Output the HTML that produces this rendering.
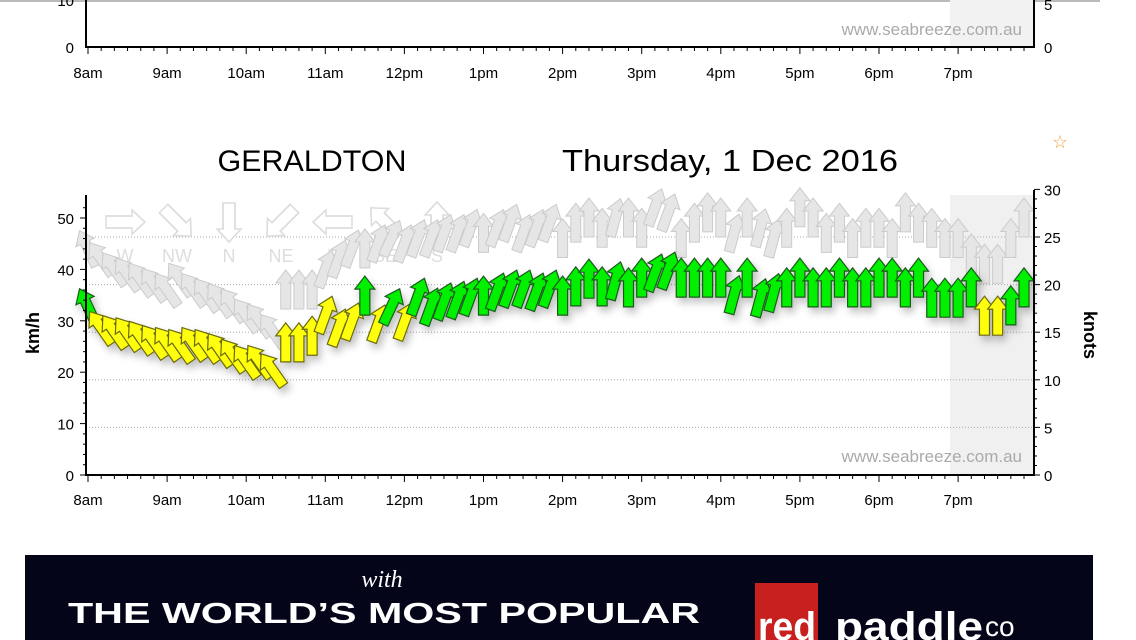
<!DOCTYPE html>
<html><head><meta charset="utf-8"><style>
body{margin:0;width:1136px;height:640px;overflow:hidden;background:#fff;font-family:"Liberation Sans",sans-serif;position:relative}
svg{position:absolute;left:0;top:0}
</style></head><body>
<svg id="c" width="1136" height="640"><defs><filter id="sh" x="-50%" y="-50%" width="200%" height="200%"><feDropShadow dx="3" dy="5" stdDeviation="4" flood-color="#000" flood-opacity="0.25"/></filter></defs></svg>
<script>
const speedKmh=[32.7,28.6,27.8,27.4,26.7,25.9,25.5,25.1,25.5,25.1,24.3,23.2,22.0,22.0,20.4,25.7,25.7,27.0,31.1,28.6,29.8,34.8,29.4,32.7,29.8,34.6,32.7,33.7,34.0,34.6,34.8,35.6,36.2,36.2,35.6,36.2,34.8,36.6,38.1,36.6,37.7,36.4,38.3,39.3,39.7,38.3,38.3,38.3,38.3,35.0,38.3,34.4,35.4,36.4,38.3,36.4,36.4,38.3,36.4,36.4,38.3,38.3,36.4,38.3,34.4,34.4,34.4,36.4,30.9,30.9,32.9,36.4];
const gustKmh=[44,42,40,39,38,37,36,38,36,35,34,33,31,30,28,36,36,36,40,42,44,44,45,46,45,46,46,47,47,48,47,48,49,47,48,49,46,49,50,48,50,50,48,52,51,46,49,51,50,47,50,48,46,48,52,50,47,49,46,48,48,46,51,49,48,46,46,43,41,41,46,50];
const dirDeg=[-25,-35,-35,-35,-35,-35,-35,-35,-35,-35,-35,-35,-35,-35,-35,0,0,0,20,20,20,0,20,25,20,20,20,20,20,20,0,20,20,20,20,20,0,0,0,0,15,0,0,20,20,0,0,0,0,15,0,15,15,0,0,0,0,0,0,0,0,0,0,0,0,0,0,0,0,0,0,0];
const hourLabels=["8am","9am","10am","11am","12pm","1pm","2pm","3pm","4pm","5pm","6pm","7pm"];
const kmhTicks=[0,10,20,30,40,50];
const knotTicks=[0,5,10,15,20,25,30];
const compassLabels=["W","NW","N","NE","E","SE","S"];
const compassRot=[90,135,180,225,270,315,0];

(function(){
const NS="http://www.w3.org/2000/svg";
const svg=document.getElementById('c');
function el(t,a,p){const e=document.createElementNS(NS,t);for(const k in a)e.setAttribute(k,a[k]);(p||svg).appendChild(e);return e;}
function tx(x,y,s,a,p){const e=el('text',Object.assign({x:x,y:y},a),p);e.textContent=s;return e;}
const X0=88,PXH=79.1,L=86,R=1034;
const xT=m=>X0+m/60*PXH;
const yK=v=>475-v*5.14;
const yN=k=>475-k*9.52;
const AR="M0,-20 L10,-7 L5,-7 L5,19 L-5,19 L-5,-7 L-10,-7 Z";

el('rect',{x:0,y:0,width:1100,height:2,fill:'#bbb'});
const topChart=el('g',{});


el('rect',{x:950,y:0,width:84,height:47,fill:'#f2f2f2'},topChart);
el('line',{x1:L,y1:0,x2:L,y2:48,stroke:'#000','stroke-width':2},topChart);
el('line',{x1:R,y1:0,x2:R,y2:48,stroke:'#000','stroke-width':2},topChart);
el('line',{x1:L,y1:47,x2:R,y2:47,stroke:'#000','stroke-width':2},topChart);
tx(74,53,'0',{'font-size':15,'text-anchor':'end'},topChart);tx(74,6,'10',{'font-size':15,'text-anchor':'end'},topChart);
tx(1044,53,'0',{'font-size':15},topChart);tx(1044,10,'5',{'font-size':15},topChart);
tx(1022,35,'www.seabreeze.com.au',{'font-size':17,fill:'#aaa','text-anchor':'end'},topChart);
for(let m=0;m<=710;m+=10){el('line',{x1:xT(m),y1:47,x2:xT(m),y2:m%60?51:54,stroke:'#000'},topChart);}
hourLabels.forEach((h,i)=>{tx(xT(i*60),78,h,{'font-size':15,'text-anchor':'middle'},topChart);});

const st=tx(1060,148,'☆',{'font-size':18,fill:'#f0a040','text-anchor':'middle'});


const t1=tx(312,171,'GERALDTON',{'font-size':30,'text-anchor':'middle',textLength:189,lengthAdjust:'spacingAndGlyphs'});


const t2=tx(730,171,'Thursday, 1 Dec 2016',{'font-size':31,'text-anchor':'middle',textLength:336,lengthAdjust:'spacingAndGlyphs'});



const g=el('g',{});


el('rect',{x:950,y:195,width:84,height:280,fill:'#f0f0f0'},g);
knotTicks.slice(1,6).forEach(k=>{el('line',{x1:L,y1:yN(k),x2:R,y2:yN(k),stroke:'#aaa','stroke-dasharray':'1,2'},g);});
const wm=tx(1022,462,'www.seabreeze.com.au',{'font-size':17,fill:'#aaa','text-anchor':'end'},g);


compassLabels.forEach((c,i)=>{const cx=125+i*52,cy=222;
 el('path',{d:AR,transform:`translate(${cx},${cy}) rotate(${compassRot[i]}) scale(1.2,1.0)`,fill:'#fff',stroke:'#ddd','stroke-width':1.5},g);
 const lt=tx(cx,262,c,{'font-size':18,fill:'#ddd','text-anchor':'middle'},g);
 
 });
const gg=el('g',{},g);


gustKmh.forEach((v,i)=>{const a=el('path',{d:AR,transform:`translate(${xT(i*10)},${yK(v)}) rotate(${dirDeg[i]})`,fill:'#e6e6e6',stroke:'#cbcbcb','stroke-width':1},gg);
 
 });
const sg=el('g',{filter:'url(#sh)'},g);


speedKmh.forEach((v,i)=>{const green=v>=31.5;
 const a=el('path',{d:AR,transform:`translate(${xT(i*10)},${yK(v)}) rotate(${dirDeg[i]})`,fill:green?'#00f000':'#ffff10',stroke:green?'#1a5a1a':'#6a6a10','stroke-width':1.2},sg);
 
 });
el('line',{x1:L,y1:195,x2:L,y2:476,stroke:'#000','stroke-width':2},g);
el('line',{x1:R,y1:190,x2:R,y2:476,stroke:'#000','stroke-width':2},g);
el('line',{x1:L,y1:475,x2:R,y2:475,stroke:'#000','stroke-width':2},g);
for(let v=0;v<=52;v+=2){el('line',{x1:L-(v%10?3:6),y1:yK(v),x2:L,y2:yK(v),stroke:'#000'},g);}
for(let k=0;k<=30;k++){el('line',{x1:R,y1:yN(k),x2:R+(k%5?3:6),y2:yN(k),stroke:'#000'},g);}
kmhTicks.forEach(v=>{const t=tx(74,yK(v)+6,String(v),{'font-size':15,'text-anchor':'end'},g);
 
 });
knotTicks.forEach(k=>{const t=tx(1044,yN(k)+6,String(k),{'font-size':15},g);
 
 });
for(let m=0;m<=710;m+=10){el('line',{x1:xT(m),y1:475,x2:xT(m),y2:m%60?479:482,stroke:'#000'},g);}
hourLabels.forEach((h,i)=>{const t=tx(xT(i*60),505,h,{'font-size':15,'text-anchor':'middle'},g);
 
 });
const yl=tx(0,0,'km/h',{'font-size':18,'font-weight':'bold','text-anchor':'middle',transform:'translate(39,333) rotate(-90)'},g);


const yr=tx(0,0,'knots',{'font-size':18,'font-weight':'bold','text-anchor':'middle',transform:'translate(1084,335) rotate(90)'},g);



const b=el('g',{});


el('rect',{x:25,y:555,width:1068,height:85,fill:'#05051a'},b);
tx(382,587,'with',{'font-size':24,'font-style':'italic',fill:'#fff','text-anchor':'middle','font-family':'Liberation Serif'},b);
tx(68,623,'THE WORLD\u2019S MOST POPULAR',{'font-size':29,'font-weight':'bold',fill:'#fff',textLength:632,lengthAdjust:'spacingAndGlyphs'},b);
el('rect',{x:755,y:583,width:63,height:57,fill:'#c8201e'},b);
tx(758,640,'red',{'font-size':40,'font-weight':'bold',fill:'#fff',textLength:58,lengthAdjust:'spacingAndGlyphs'},b);
tx(835,640,'paddle',{'font-size':40,'font-weight':'bold',fill:'#fff',textLength:148,lengthAdjust:'spacingAndGlyphs'},b);
tx(985,636,'co',{'font-size':28,fill:'#fff'},b);
})();
</script>
</body></html>
